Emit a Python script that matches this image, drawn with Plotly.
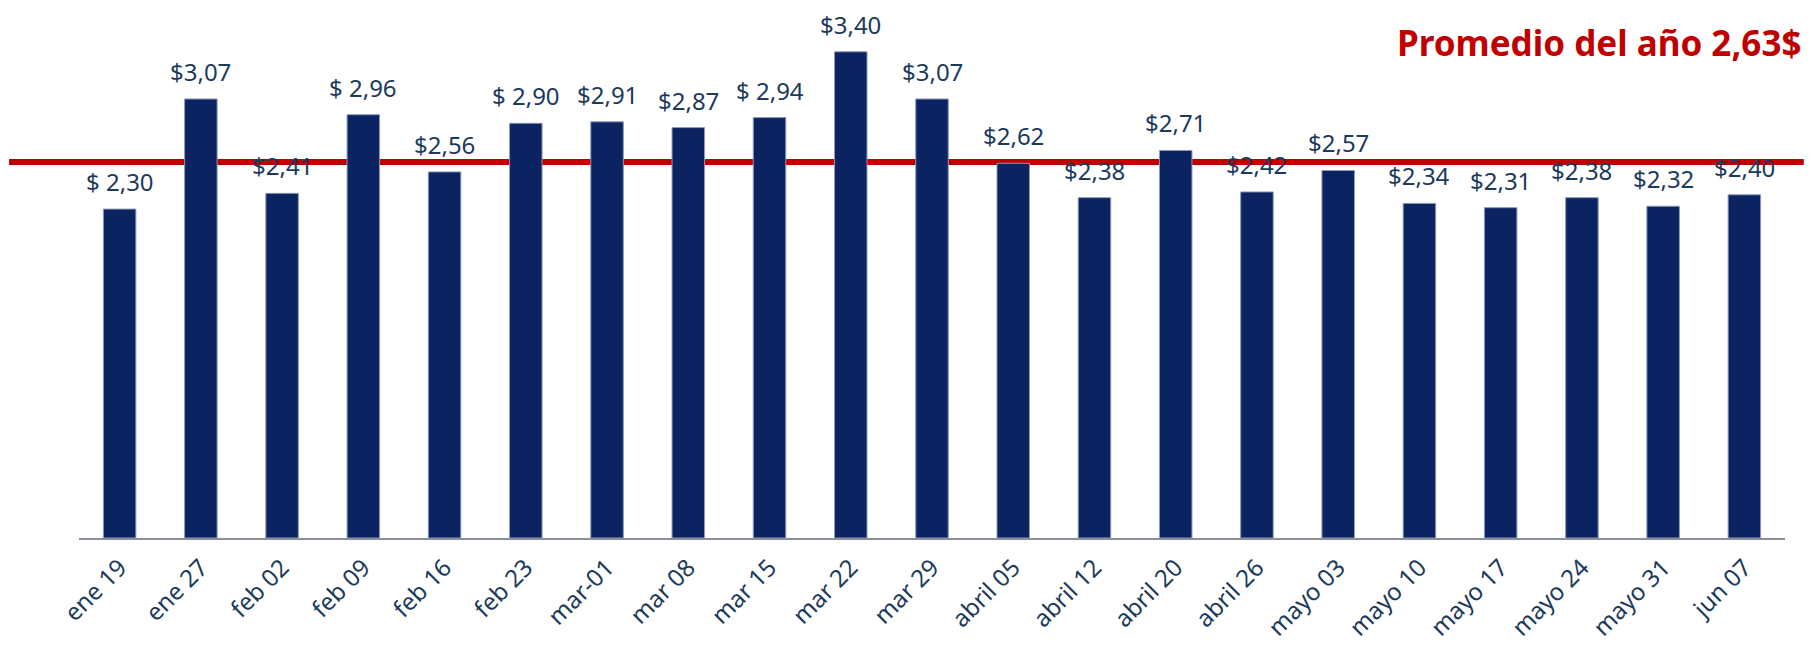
import plotly.graph_objects as go

categories = ["ene 19", "ene 27", "feb 02", "feb 09", "feb 16", "feb 23", "mar-01",
              "mar 08", "mar 15", "mar 22", "mar 29", "abril 05", "abril 12", "abril 20",
              "abril 26", "mayo 03", "mayo 10", "mayo 17", "mayo 24", "mayo 31", "jun 07"]
values = [2.30, 3.07, 2.41, 2.96, 2.56, 2.90, 2.91, 2.87, 2.94, 3.40, 3.07, 2.62, 2.38,
          2.71, 2.42, 2.57, 2.34, 2.31, 2.38, 2.32, 2.40]
value_labels = ["$ 2,30", "$3,07", "$2,41", "$ 2,96", "$2,56", "$ 2,90", "$2,91", "$2,87",
                "$ 2,94", "$3,40", "$3,07", "$2,62", "$2,38", "$2,71", "$2,42", "$2,57",
                "$2,34", "$2,31", "$2,38", "$2,32", "$2,40"]
average = 2.63
title_text = "Promedio del año 2,63$"

# page has an 8px body margin; size the figure so the page stays 1812x654
W, H = 1796, 638
ml, mr, mt, mb = 71, 19, 12, 108
px_per_unit = 143.0
y_max = (H - mt - mb) / px_per_unit

label_color = "#1B3A5C"

fig = go.Figure()
fig.add_trace(go.Bar(
    x=categories, y=values,
    marker=dict(color="#0B2361", line=dict(color="#8C98B8", width=1)),
    hoverinfo="skip",
))

for cat, val, lab in zip(categories, values, value_labels):
    fig.add_annotation(x=cat, y=val, xref="x", yref="y", text=lab,
                       showarrow=False, xanchor="center", yanchor="bottom",
                       yshift=9,
                       font=dict(family="Noto Sans", size=24, color=label_color))

fig.add_shape(type="line", xref="paper", yref="y",
              x0=-0.041, x1=1.011, y0=average, y1=average,
              line=dict(color="#C00000", width=6), layer="below")

fig.add_annotation(text=title_text, xref="paper", yref="paper",
                   x=1.0, y=1.0, xanchor="right", yanchor="middle",
                   xshift=18, yshift=-22, showarrow=False,
                   font=dict(family="Noto Sans", size=35, color="#C00000", weight="bold"))

fig.update_layout(
    width=W, height=H,
    margin=dict(l=ml, r=mr, t=mt, b=mb, autoexpand=False),
    paper_bgcolor="white", plot_bgcolor="white",
    bargap=0.6,
    showlegend=False,
    xaxis=dict(tickangle=-45, showline=True, linecolor="#8C9099", linewidth=2,
               ticks="", showgrid=False, automargin=False, ticklabelstandoff=4,
               tickfont=dict(family="Noto Sans", size=24, color=label_color)),
    yaxis=dict(range=[0, y_max], visible=False, showgrid=False, automargin=False),
)

fig.write_html("out.html")
